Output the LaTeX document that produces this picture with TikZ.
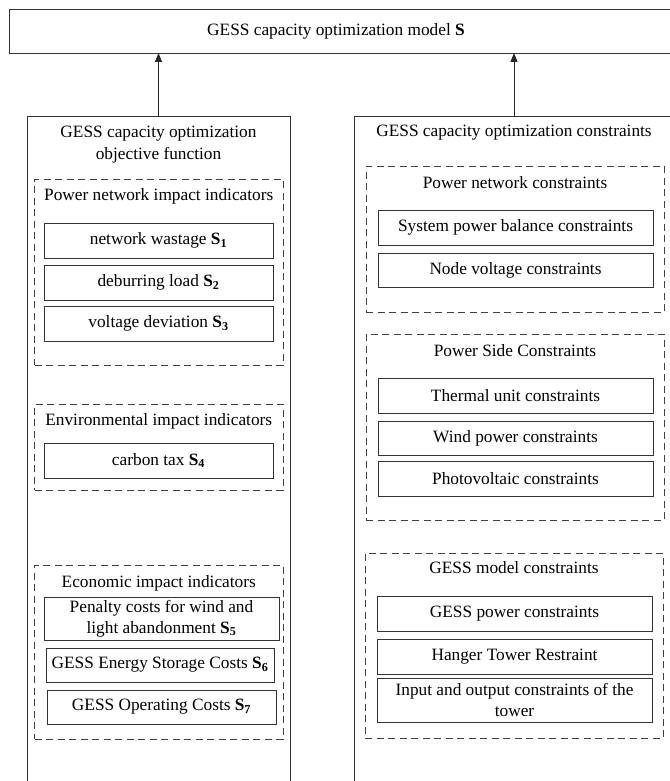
\documentclass[tikz,border=0pt]{standalone}
\usepackage{fontspec}
\setmainfont{Liberation Serif}
\usetikzlibrary{arrows.meta}
\newcommand\Ssub[1]{\textbf{S}\textsubscript{\textbf{#1}}}
\begin{document}
\begin{tikzpicture}[x=1pt,y=-1pt,
  every node/.style={font=\fontsize{17.3}{22}\selectfont, inner sep=0pt, outer sep=0pt},
  solidbox/.style={draw=black!80, line width=0.9pt, anchor=north west, align=center},
  dashbox/.style={draw=black!75, line width=0.9pt, dash pattern=on 7pt off 4.5pt, anchor=north west},
  ttl/.style={align=center},
  conn/.style={draw=black!85, line width=0.9pt, -{Triangle[length=9pt,width=7pt]}}
]
\useasboundingbox (0,0) rectangle (669,781);

% top box
\node[solidbox, minimum width=663pt, minimum height=44pt] (top) at (9,9) {};
\node[ttl] (toptxt) at (336,31) {GESS capacity optimization model \textbf{S}};

% big boxes
\node[solidbox, minimum width=263pt, minimum height=700pt] (objbox) at (27,116) {};
\node[solidbox, minimum width=320pt, minimum height=700pt] (conbox) at (354,116) {};
\node[ttl] (objttl) at (158.5,145) {GESS capacity optimization\\objective function};
\node[ttl] (conttl) at (514,133) {GESS capacity optimization constraints};

% arrows
\draw[conn] (objbox.north) -- (objbox.north |- top.south);
\draw[conn] (conbox.north) -- (conbox.north |- top.south);

% left: power network impact
\node[dashbox, minimum width=248.5pt, minimum height=186pt] (d1) at (34.5,179) {};
\node[ttl] (d1t) at (158.75,196) {Power network impact indicators};
\node[solidbox, minimum width=229pt, minimum height=35pt] (s1) at (44,223) {network wastage \Ssub{1}};
\node[solidbox, minimum width=229pt, minimum height=35pt] (s2) at (44,265) {deburring load \Ssub{2}};
\node[solidbox, minimum width=229pt, minimum height=35pt] (s3) at (44,306) {voltage deviation \Ssub{3}};

% left: environmental
\node[dashbox, minimum width=248.5pt, minimum height=86pt] (d2) at (34.5,404) {};
\node[ttl] (d2t) at (158.75,421) {Environmental impact indicators};
\node[solidbox, minimum width=229pt, minimum height=35pt] (s4) at (44,443) {carbon tax \Ssub{4}};

% left: economic
\node[dashbox, minimum width=248.5pt, minimum height=174pt] (d3) at (34.5,565) {};
\node[ttl] (d3t) at (158.75,583) {Economic impact indicators};
\node[solidbox, minimum width=235pt, minimum height=43pt, font=\fontsize{17.3}{21}\selectfont] (s5) at (44,597) {Penalty costs for wind and\\light abandonment \Ssub{5}};
\node[solidbox, minimum width=228pt, minimum height=34pt] (s6) at (46,648) {GESS Energy Storage Costs \Ssub{6}};
\node[solidbox, minimum width=229pt, minimum height=34pt] (s7) at (47,690) {GESS Operating Costs \Ssub{7}};

% right: power network constraints
\node[dashbox, minimum width=298pt, minimum height=146pt] (da) at (366,166) {};
\node[ttl] (dat) at (515,183) {Power network constraints};
\node[solidbox, minimum width=275pt, minimum height=35pt] (c1) at (378,210) {System power balance constraints};
\node[solidbox, minimum width=275pt, minimum height=34pt] (c2) at (378,253) {Node voltage constraints};

% right: power side
\node[dashbox, minimum width=298pt, minimum height=186pt] (db) at (366,334) {};
\node[ttl] (dbt) at (515,351) {Power Side Constraints};
\node[solidbox, minimum width=275pt, minimum height=35pt] (c3) at (378,378) {Thermal unit constraints};
\node[solidbox, minimum width=275pt, minimum height=34pt] (c4) at (378,421) {Wind power constraints};
\node[solidbox, minimum width=275pt, minimum height=35pt] (c5) at (378,461) {Photovoltaic constraints};

% right: GESS model
\node[dashbox, minimum width=298pt, minimum height=185pt] (dc) at (365,553) {};
\node[ttl] (dct) at (514,568) {GESS model constraints};
\node[solidbox, minimum width=275pt, minimum height=35pt] (c6) at (377,596) {GESS power constraints};
\node[solidbox, minimum width=275pt, minimum height=35pt] (c7) at (377,639) {Hanger Tower Restraint};
\node[solidbox, minimum width=275pt, minimum height=44pt, font=\fontsize{17.3}{21}\selectfont] (c8) at (377,678) {Input and output constraints of the\\tower};
\end{tikzpicture}
\end{document}
